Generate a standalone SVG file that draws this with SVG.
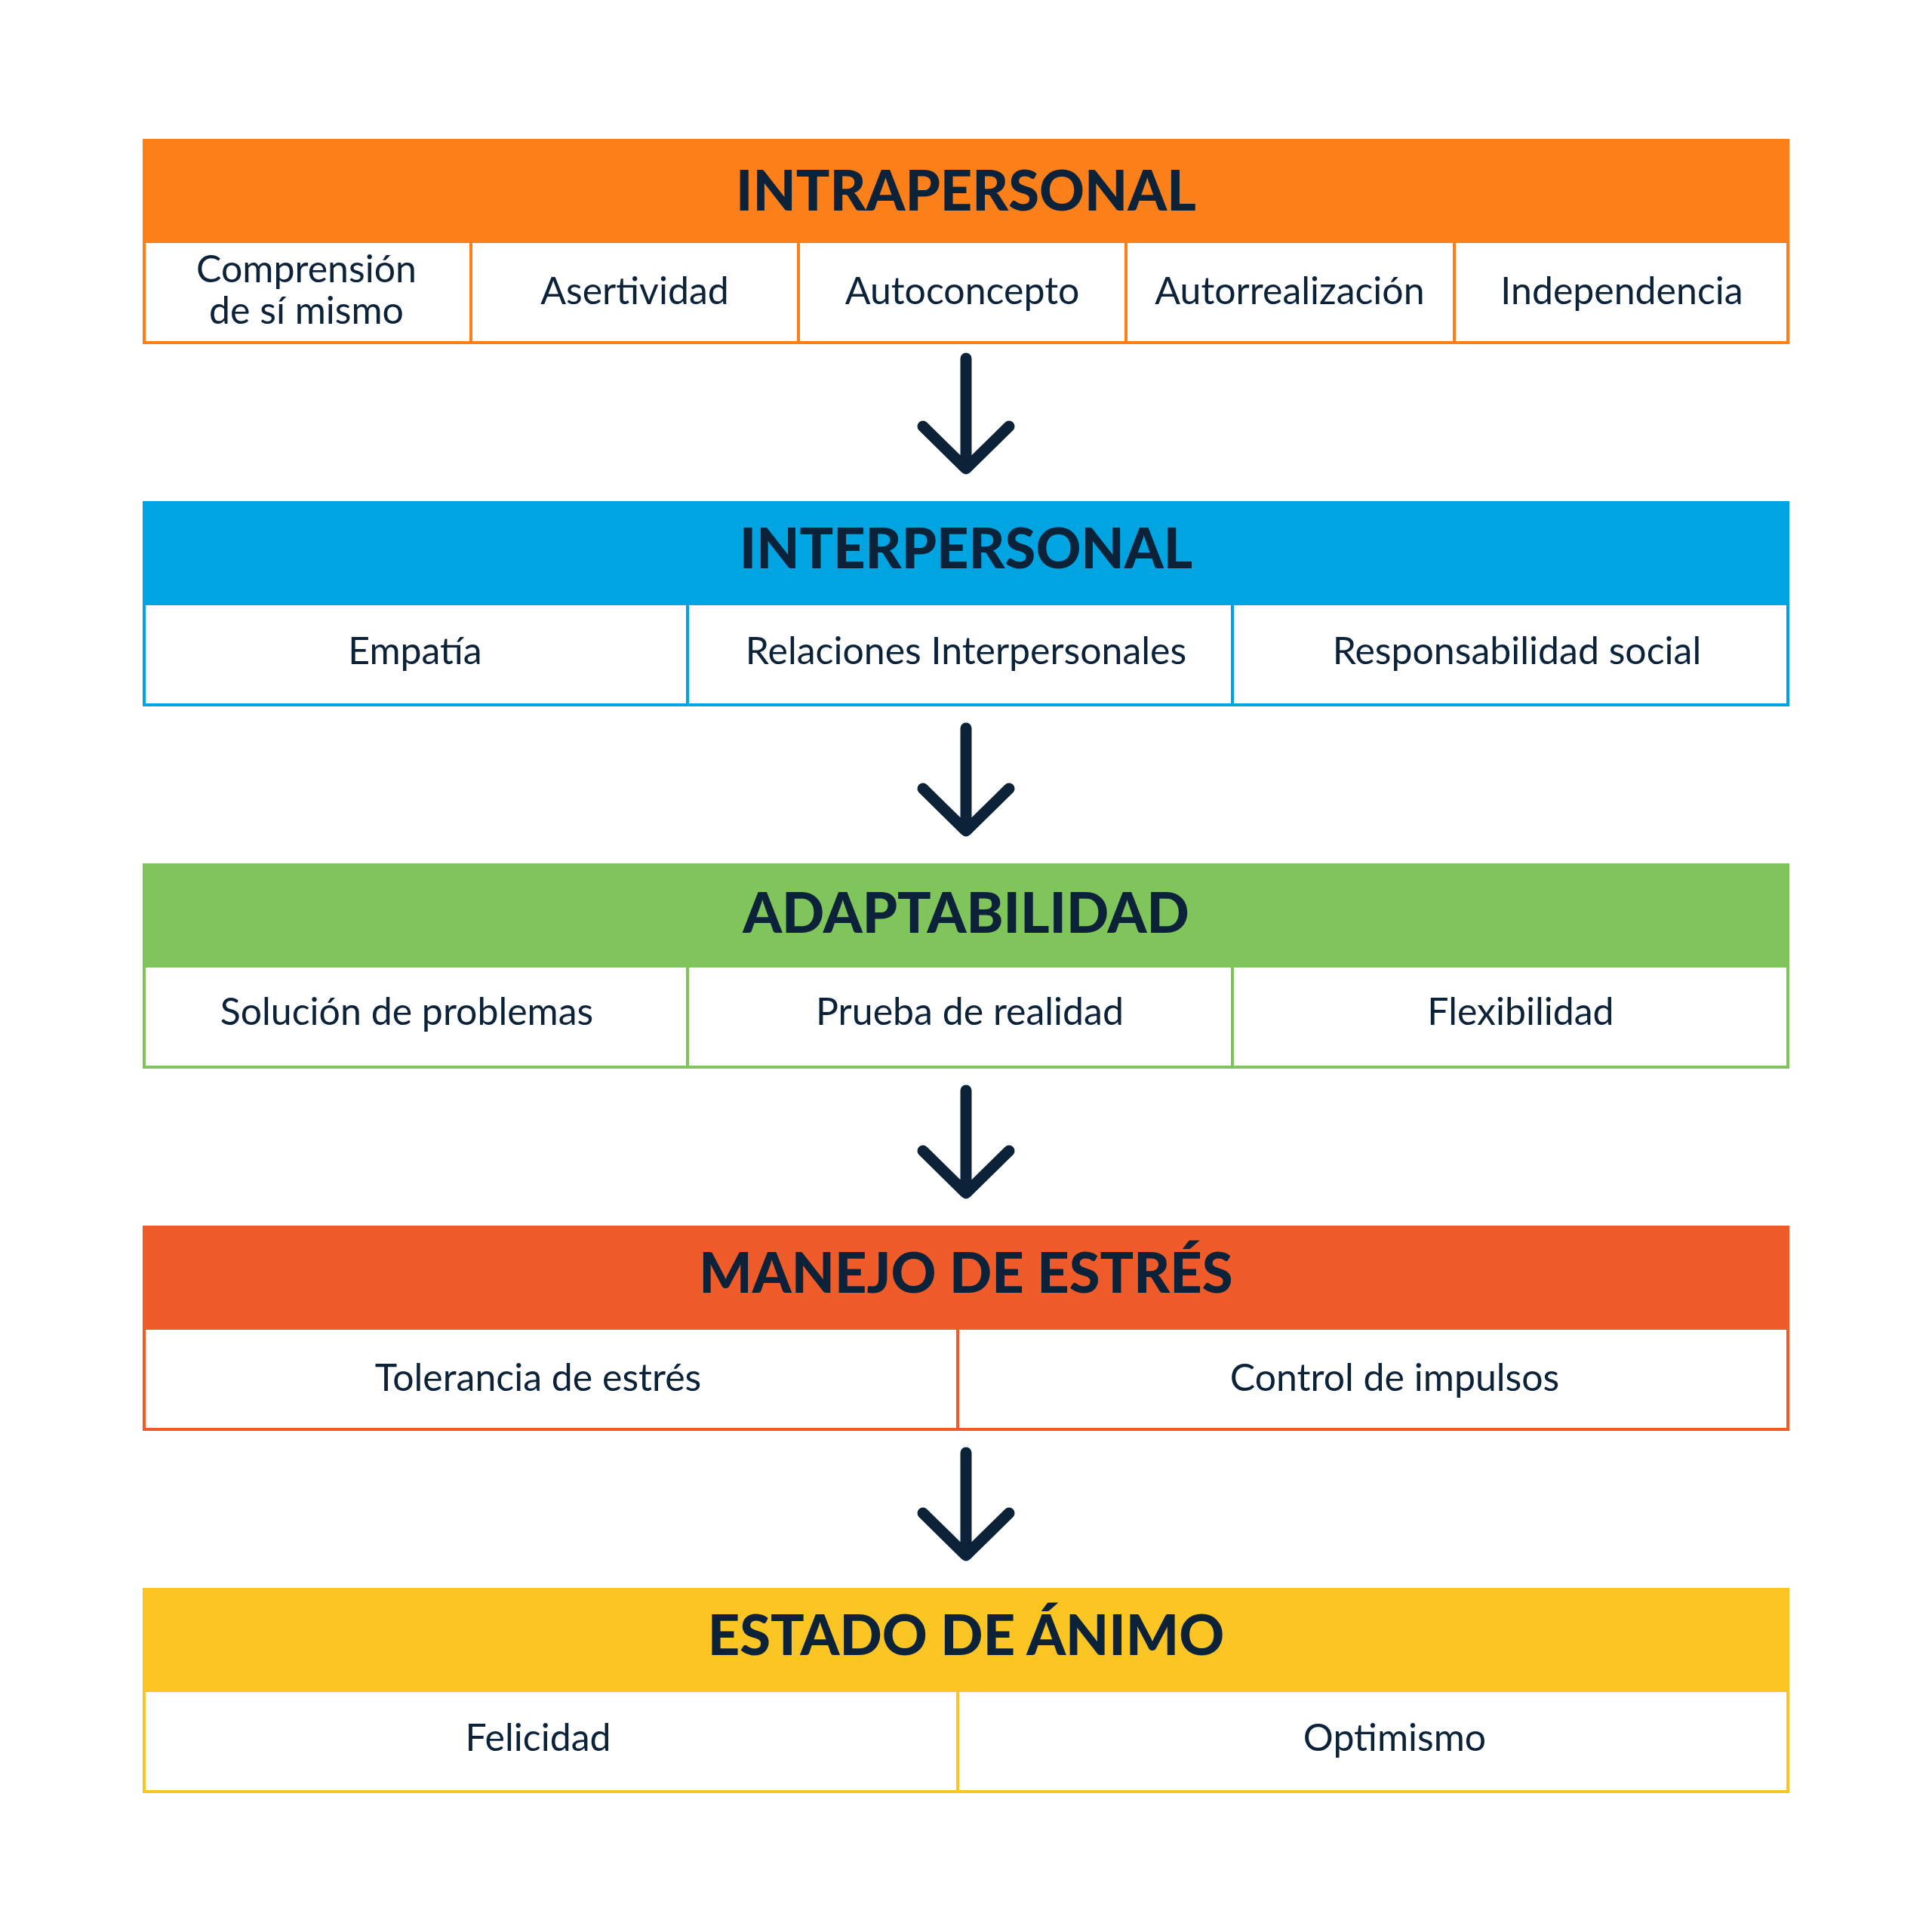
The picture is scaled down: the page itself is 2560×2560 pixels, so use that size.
<svg xmlns="http://www.w3.org/2000/svg" width="2560" height="2560" viewBox="0 0 2560 2560">
<style>
.h{font-family:Lato,"Open Sans","Liberation Sans",sans-serif;font-weight:900;font-size:74px;fill:#0b2239;text-anchor:middle}
.t{font-family:Lato,"Open Sans","Liberation Sans",sans-serif;font-weight:400;font-size:50px;fill:#0b2239;text-anchor:middle}
.c{fill:#fff;stroke-width:4}
.a{fill:none;stroke:#0b2239;stroke-width:15;stroke-linecap:round;stroke-linejoin:round}
</style>
<rect width="2560" height="2560" fill="#fff"/>
<g id="intrapersonal">
<rect x="189" y="184" width="2182" height="136" fill="#fc8019"/>
<rect class="c" x="191" y="320" width="2178" height="134" stroke="#fc8019"/>
<g stroke="#fc8019" stroke-width="4"><line x1="624" y1="320" x2="624" y2="454"/><line x1="1058" y1="320" x2="1058" y2="454"/><line x1="1492" y1="320" x2="1492" y2="454"/><line x1="1927" y1="320" x2="1927" y2="454"/></g>
<text class="h" x="1280" y="279">INTRAPERSONAL</text>
<text class="t" x="406" y="374">Comprensión</text>
<text class="t" x="406" y="429">de sí mismo</text>
<text class="t" x="841" y="403">Asertividad</text>
<text class="t" x="1275" y="403">Autoconcepto</text>
<text class="t" x="1709" y="403">Autorrealización</text>
<text class="t" x="2149" y="403">Independencia</text>
</g>
<g id="interpersonal">
<rect x="189" y="664" width="2182" height="136" fill="#00a4e0"/>
<rect class="c" x="191" y="800" width="2178" height="134" stroke="#00a4e0"/>
<g stroke="#00a4e0" stroke-width="4"><line x1="911" y1="800" x2="911" y2="934"/><line x1="1633" y1="800" x2="1633" y2="934"/></g>
<text class="h" x="1280" y="753">INTERPERSONAL</text>
<text class="t" x="550" y="880">Empatía</text>
<text class="t" x="1280" y="880">Relaciones Interpersonales</text>
<text class="t" x="2010" y="880">Responsabilidad social</text>
</g>
<g id="adaptabilidad">
<rect x="189" y="1144" width="2182" height="136" fill="#80c45c"/>
<rect class="c" x="191" y="1280" width="2178" height="134" stroke="#80c45c"/>
<g stroke="#80c45c" stroke-width="4"><line x1="911" y1="1280" x2="911" y2="1414"/><line x1="1633" y1="1280" x2="1633" y2="1414"/></g>
<text class="h" x="1280" y="1236">ADAPTABILIDAD</text>
<text class="t" x="539" y="1358">Solución de problemas</text>
<text class="t" x="1285" y="1358">Prueba de realidad</text>
<text class="t" x="2015" y="1358">Flexibilidad</text>
</g>
<g id="manejo-estres">
<rect x="189" y="1624" width="2182" height="136" fill="#ef5b29"/>
<rect class="c" x="191" y="1760" width="2178" height="134" stroke="#ef5b29"/>
<g stroke="#ef5b29" stroke-width="4"><line x1="1269" y1="1760" x2="1269" y2="1894"/></g>
<text class="h" x="1280" y="1713">MANEJO DE ESTRÉS</text>
<text class="t" x="713" y="1843">Tolerancia de estrés</text>
<text class="t" x="1848" y="1843">Control de impulsos</text>
</g>
<g id="estado-animo">
<rect x="189" y="2104" width="2182" height="136" fill="#fbc523"/>
<rect class="c" x="191" y="2240" width="2178" height="134" stroke="#fbc523"/>
<g stroke="#fbc523" stroke-width="4"><line x1="1269" y1="2240" x2="1269" y2="2374"/></g>
<text class="h" x="1280" y="2193">ESTADO DE ÁNIMO</text>
<text class="t" x="713" y="2320">Felicidad</text>
<text class="t" x="1848" y="2320">Optimismo</text>
</g>
<g id="connectors">
<path class="a" d="M1280 475V619M1223 565L1280 621L1337 565"/>
<path class="a" d="M1280 965V1099M1223 1045L1280 1101L1337 1045"/>
<path class="a" d="M1280 1445V1579M1223 1525L1280 1581L1337 1525"/>
<path class="a" d="M1280 1925V2059M1223 2005L1280 2061L1337 2005"/>
</g>
</svg>
